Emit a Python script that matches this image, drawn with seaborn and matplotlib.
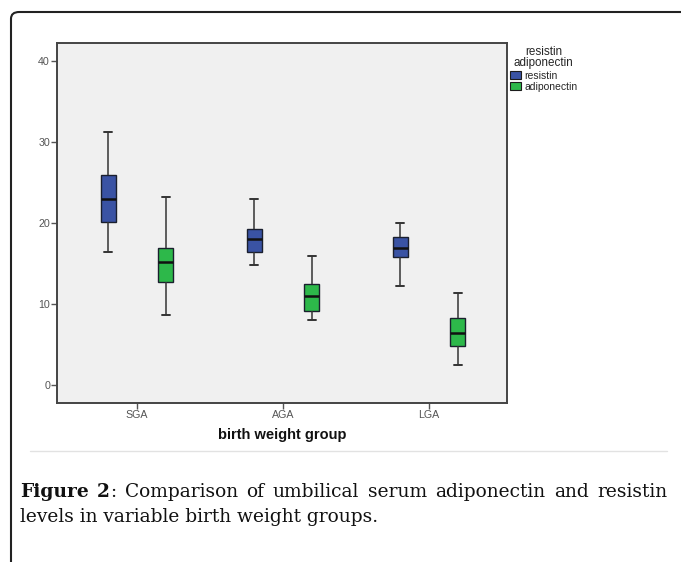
import matplotlib
matplotlib.use('Agg')
import matplotlib.pyplot as plt
import matplotlib.patches as mpatches
import seaborn as sns
import pandas as pd

# five-number summaries: whisker low, Q1, median, Q3, whisker high
groups = ['SGA', 'AGA', 'LGA']
hormones = ['resistin', 'adiponectin']
resistin = {
    'SGA': [16.4, 20.2, 23.0, 26.0, 31.3],
    'AGA': [14.9, 16.4, 18.0, 19.3, 23.0],
    'LGA': [12.2, 15.8, 17.0, 18.3, 20.0],
}
adiponectin = {
    'SGA': [8.7, 12.7, 15.2, 17.0, 23.2],
    'AGA': [8.0, 9.2, 11.0, 12.5, 16.0],
    'LGA': [2.5, 4.9, 6.4, 8.3, 11.4],
}
yticks = [0, 10, 20, 30, 40]

rows = []
for g in groups:
    for v in resistin[g]:
        rows.append({'group': g, 'hormone': 'resistin', 'value': v})
    for v in adiponectin[g]:
        rows.append({'group': g, 'hormone': 'adiponectin', 'value': v})
df = pd.DataFrame(rows)

sns.set_theme(style='white')
plt.rcParams['font.family'] = ['Liberation Sans', 'DejaVu Sans']

W, H = 681, 562
fig = plt.figure(figsize=(W / 100, H / 100), dpi=100)
fig.patch.set_facecolor('white')

ax = fig.add_axes([57 / W, 1 - 403 / H, 450 / W, 360 / H])
ax.set_facecolor('#F0F0F0')

sns.boxplot(data=df, x='group', y='value', hue='hormone', order=groups,
            hue_order=hormones, palette=['#3A53A4', '#2DB84A'], saturation=1,
            width=0.79, gap=0.74, whis=(0, 100), linecolor='#1a1f2e',
            linewidth=1.0, medianprops=dict(linewidth=1.8, color='#111111'),
            capprops=dict(linewidth=1.4, color='#333333'),
            whiskerprops=dict(linewidth=1.1, color='#333333'), ax=ax)

ax.set_xlim(-0.548, 2.534)
ax.set_ylim(-2.19, 42.26)
ax.set_yticks(yticks)
ax.set_xlabel('birth weight group', fontsize=10.5, fontweight='bold', color='#111111', labelpad=6)
ax.set_ylabel('')
ax.tick_params(axis='both', which='both', length=4, width=1, color='#555555',
               labelcolor='#555555', labelsize=7.7, pad=1, bottom=True, left=True)
for s in ax.spines.values():
    s.set_color('#444444')
    s.set_linewidth(1.4)

sns.move_legend(ax, 'upper left', bbox_to_anchor=(1.0067, 0.992), frameon=False,
                title='resistin\nadiponectin', fontsize=7.5, title_fontsize=8.4,
                handlelength=1.05, handleheight=0.75, handletextpad=0.3,
                labelspacing=0.12, borderpad=0, borderaxespad=0)
leg = ax.get_legend()
leg.get_title().set_multialignment('center')
leg.get_title().set_linespacing(0.95)
for p in leg.get_patches():
    p.set_edgecolor('#1c1c1c')
    p.set_linewidth(0.8)

# page frame and separator
frame = mpatches.FancyBboxPatch((11 / W, -0.2), 1.2, 1 - 12 / H + 0.2,
                                boxstyle='round,pad=0,rounding_size=0.012',
                                transform=fig.transFigure, fill=False,
                                edgecolor='#222222', linewidth=1.5)
fig.patches.append(frame)
fig.add_artist(plt.Line2D([30 / W, 667 / W], [1 - 451 / H] * 2,
                          transform=fig.transFigure, color='#e2e2e2', linewidth=1))

# caption: size fitted so line 2 spans 20..383 px, line 1 justified 20..667 px
cap_font = ['DejaVu Serif']
renderer = fig.canvas.get_renderer()
line2 = fig.text(20 / W, 1 - 522 / H, 'levels in variable birth weight groups.', family=cap_font,
                 fontsize=14, color='#111111', va='baseline')
cap_size = 14 * 363 / line2.get_window_extent(renderer).width
line2.set_fontsize(cap_size)

line1 = [('Figure', 'bold'), ('2', 'bold'), ('Comparison', 'normal'), ('of', 'normal'),
         ('umbilical', 'normal'), ('serum', 'normal'), ('adiponectin', 'normal'),
         ('and', 'normal'), ('resistin', 'normal')]
texts = []
for word, weight in line1:
    t = fig.text(0, 1 - 497 / H, word, family=cap_font, fontsize=cap_size,
                 fontweight=weight, color='#111111', va='baseline')
    texts.append(t)
colon = fig.text(0, 1 - 497 / H, ':', family=cap_font, fontsize=cap_size,
                 color='#111111', va='baseline')
widths = [t.get_window_extent(renderer).width for t in texts]
cw = colon.get_window_extent(renderer).width
gap_px = (647 - sum(widths) - cw) / (len(texts) - 1)
x = 20
for i, t in enumerate(texts):
    t.set_x(x / W)
    x += widths[i]
    if i == 1:
        colon.set_x(x / W)
        x += cw
    x += gap_px

fig.savefig('out.png', dpi=100)
